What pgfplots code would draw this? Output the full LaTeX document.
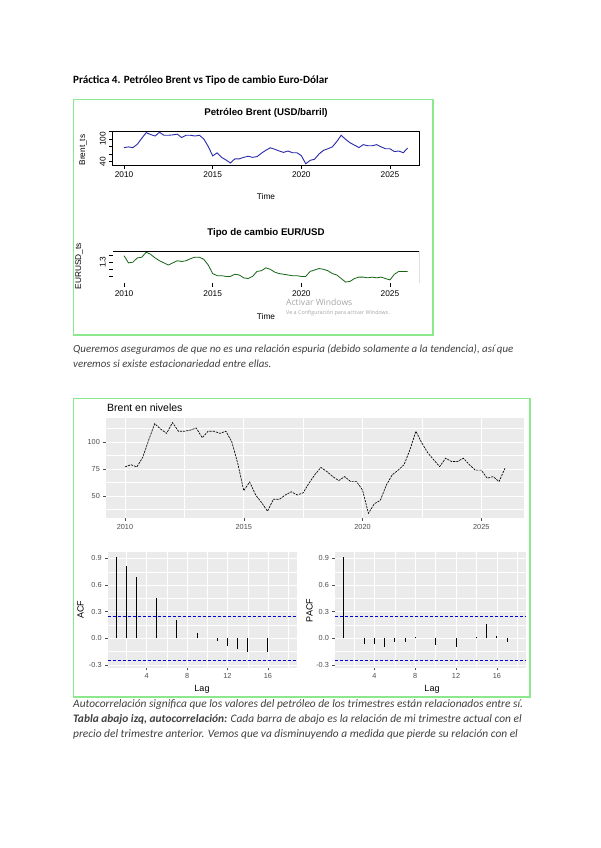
\documentclass[border=0pt]{standalone}
\usepackage{pgfplots}
\pgfplotsset{compat=1.18}
\usepackage{pgfplotstable}
\usepackage{fontspec}
\setmainfont{Carlito}
\newfontfamily\arial{Liberation Sans}
\newfontfamily\winfont{Open Sans}

\definecolor{frameg}{RGB}{140,232,140}
\definecolor{ggbg}{RGB}{235,235,235}
\definecolor{gg30}{RGB}{77,77,77}
\definecolor{rblue}{RGB}{40,40,170}
\definecolor{rgreen}{RGB}{20,100,20}
\definecolor{bodytxt}{RGB}{64,64,64}

% quarterly series, 2010Q1 - 2026Q1
\pgfplotstableread{
t       brent  eur
2010.00 77     1.39
2010.25 79     1.29
2010.50 77     1.30
2010.75 86     1.36
2011.00 102    1.37
2011.25 117    1.44
2011.50 112    1.41
2011.75 108    1.36
2012.00 118    1.32
2012.25 110    1.29
2012.50 110    1.26
2012.75 111    1.29
2013.00 113    1.32
2013.25 104    1.31
2013.50 110    1.32
2013.75 110    1.35
2014.00 108    1.37
2014.25 110    1.37
2014.50 100    1.34
2014.75 80     1.26
2015.00 55     1.14
2015.25 63     1.11
2015.50 51     1.11
2015.75 44     1.10
2016.00 36     1.10
2016.25 47     1.13
2016.50 47     1.12
2016.75 51     1.08
2017.00 54     1.07
2017.25 51     1.10
2017.50 53     1.17
2017.75 62     1.18
2018.00 70     1.22
2018.25 76.5   1.20
2018.50 72.7   1.16
2018.75 68     1.14
2019.00 64.3   1.13
2019.25 68     1.12
2019.50 63.4   1.11
2019.75 63.4   1.11
2020.00 55.6   1.10
2020.25 34     1.10
2020.50 43     1.17
2020.75 46     1.19
2021.00 60     1.21
2021.25 69.6   1.20
2021.50 74     1.18
2021.75 79     1.14
2022.00 93     1.12
2022.25 110    1.07
2022.50 99     1.02
2022.75 90     1.03
2023.00 83.5   1.07
2023.25 77.3   1.09
2023.50 85     1.09
2023.75 82     1.08
2024.00 82     1.09
2024.25 85     1.08
2024.50 79     1.09
2024.75 74     1.07
2025.00 74     1.05
2025.25 66.5   1.13
2025.50 68     1.17
2025.75 63.4   1.17
2026.00 75.8   1.17
}\quarters

\pgfplotsset{
  /pgf/number format/1000 sep={},
  rbase/.style={
    scale only axis, width=306.3pt,
    xmin=2009.36, xmax=2026.64,
    xtick={2010,2015,2020,2025},
    tick align=outside, tick pos=left,
    major tick length=3.5pt,
    tick style={black, line width=0.5pt},
    axis line style={line width=0.6pt},
    ticklabel style={font=\arial\fontsize{8.3}{9}\selectfont},
    yticklabel style={rotate=90, anchor=south},
    /pgf/number format/assume math mode=true,
  },
  gg/.style={
    scale only axis,
    axis background/.style={fill=ggbg},
    axis line style={draw=none},
    grid=both,
    major grid style={white, line width=0.75pt},
    minor grid style={white, line width=0.35pt},
    tick align=outside, tick pos=left,
    major tick length=2.6pt, minor tick length=0pt,
    tick style={gg30, line width=0.5pt},
    ticklabel style={font=\arial\fontsize{7.3}{8}\selectfont, text=gg30},
    /pgf/number format/assume math mode=true,
  },
}

\begin{document}
\begin{tikzpicture}[x=1pt, y=1pt]
\fill[white] (0,0) rectangle (600,-848);
\path[use as bounding box] (0,0) rectangle (600,-848);

% heading
\node[anchor=base west, inner sep=0, font=\bfseries\fontsize{11.1}{13}\selectfont] at (73,-84)
  {Práctica 4. Petróleo Brent vs Tipo de cambio Euro-Dólar};

% frame 1
\draw[frameg, line width=1.8pt] (73.5,-99.5) rectangle (433,-335);

\node[font=\arial\bfseries\fontsize{9.7}{11}\selectfont] at (266,-113) {Petróleo Brent (USD/barril)};
\begin{axis}[rbase, at={(112.7pt,-165pt)}, anchor=south west, height=34pt,
    ymin=30.6, ymax=121.4,
    ytick={40,60,80,100,120}, yticklabels={40,,,100,}]
  \addplot[rblue, line width=0.9pt] table[x=t, y=brent] {\quarters};
\end{axis}
\node[font=\arial\fontsize{8.3}{9}\selectfont] at (266,-197) {Time};
\node[rotate=90, font=\arial\fontsize{8.3}{9}\selectfont] at (83,-150) {Brent\_ts};

\node[font=\arial\bfseries\fontsize{9.7}{11}\selectfont] at (266,-233) {Tipo de cambio EUR/USD};
\begin{axis}[rbase, at={(112.7pt,-283.3pt)}, anchor=south west, height=32.3pt,
    ymin=1.003, ymax=1.457, axis line style={draw=none},
    ytick={1.0,1.1,1.2,1.3,1.4}, yticklabels={1.0,,,1.3,}]
  \addplot[rgreen, line width=0.8pt] table[x=t, y=eur] {\quarters};
  \draw[black, line width=0.6pt] (rel axis cs:0,1) -- (rel axis cs:1,1) -- (rel axis cs:1,0);
\end{axis}
\node[font=\arial\fontsize{8.3}{9}\selectfont] at (266,-317) {Time};
\node[rotate=90, font=\arial\fontsize{8.3}{9}\selectfont] at (79,-266) {EURUSD\_ts};

% watermark
\node[anchor=west, inner sep=0, text=black!35, font=\winfont\fontsize{8.6}{10}\selectfont] at (286,-302) {Activar Windows};
\node[anchor=west, inner sep=0, text=black!35, font=\winfont\fontsize{5.4}{6}\selectfont] at (286,-313.5) {Ve a Configuración para activar Windows.};

% paragraph
\begin{scope}[every node/.style={anchor=base west, inner sep=0, text=bodytxt, font=\itshape\fontsize{10.9}{12}\selectfont}]
\node at (73,-352) {Queremos aseguramos de que no es una relación espuria (debido solamente a la tendencia), así que};
\node at (73,-367) {veremos si existe estacionariedad entre ellas.};
\end{scope}

% frame 2
\draw[frameg, line width=1.8pt] (73.5,-398.5) rectangle (530,-697);

\node[anchor=west, inner sep=0, font=\arial\fontsize{10.5}{12}\selectfont] at (107,-408) {Brent en niveles};
\begin{axis}[gg, at={(106pt,-518pt)}, anchor=south west, width=418pt, height=100.3pt,
    xmin=2009.2, xmax=2026.8, ymin=29.7, ymax=122.5,
    xtick={2010,2015,2020,2025}, minor xtick={2012.5,2017.5,2022.5},
    ytick={50,75,100}, minor ytick={37.5,62.5,87.5,112.5}]
  \addplot[black, line width=0.65pt, dash pattern=on 2.2pt off 1pt] table[x=t, y=brent] {\quarters};
\end{axis}

% ACF
\begin{axis}[gg, at={(107.7pt,-667.7pt)}, anchor=south west, width=189pt, height=115.4pt,
    xmin=0.15, xmax=18.85, ymin=-0.331, ymax=0.969,
    xtick={4,8,12,16}, minor xtick={2,6,10,14,18},
    ytick={-0.3,0,0.3,0.6,0.9}, yticklabels={-0.3,0.0,0.3,0.6,0.9},
    minor ytick={-0.15,0.15,0.45,0.75}]
  \addplot[blue!85!black, densely dashed, line width=0.6pt] coordinates {(0.15,0.245) (18.85,0.245)};
  \addplot[blue!85!black, densely dashed, line width=0.6pt] coordinates {(0.15,-0.245) (18.85,-0.245)};
  \addplot[ycomb, black, line width=0.9pt] coordinates {
    (1,0.92) (2,0.81) (3,0.69) (5,0.45) (7,0.21) (9,0.056)
    (11,-0.035) (12,-0.086) (13,-0.124) (14,-0.157) (16,-0.157)};
\end{axis}
\node[rotate=90, font=\arial\fontsize{9}{10}\selectfont] at (80.5,-609.5) {ACF};
\node[font=\arial\fontsize{9}{10}\selectfont] at (202,-689) {Lag};

% PACF
\begin{axis}[gg, at={(335pt,-667.7pt)}, anchor=south west, width=191pt, height=115.4pt,
    xmin=0.15, xmax=18.85, ymin=-0.331, ymax=0.969,
    xtick={4,8,12,16}, minor xtick={2,6,10,14,18},
    ytick={-0.3,0,0.3,0.6,0.9}, yticklabels={-0.3,0.0,0.3,0.6,0.9},
    minor ytick={-0.15,0.15,0.45,0.75}]
  \addplot[blue!85!black, densely dashed, line width=0.6pt] coordinates {(0.15,0.245) (18.85,0.245)};
  \addplot[blue!85!black, densely dashed, line width=0.6pt] coordinates {(0.15,-0.245) (18.85,-0.245)};
  \addplot[ycomb, black, line width=0.9pt] coordinates {
    (1,0.92) (3,-0.067) (4,-0.067) (5,-0.10) (6,-0.037) (7,-0.045) (8,0.01)
    (10,-0.075) (12,-0.10) (14,0.015) (15,0.16) (16,0.03) (17,-0.037)};
\end{axis}
\node[rotate=90, font=\arial\fontsize{9}{10}\selectfont] at (309.5,-610.5) {PACF};
\node[font=\arial\fontsize{9}{10}\selectfont] at (432,-689) {Lag};

% closing text
\begin{scope}[every node/.style={anchor=base west, inner sep=0, text=bodytxt, font=\itshape\fontsize{11.4}{13}\selectfont}]
\node at (73,-707) {Autocorrelación significa que los valores del petróleo de los trimestres están relacionados entre sí.};
\node at (73,-722) {\textbf{Tabla abajo izq, autocorrelación:} Cada barra de abajo es la relación de mi trimestre actual con el};
\node at (73,-737) {precio del trimestre anterior. Vemos que va disminuyendo a medida que pierde su relación con el};
\end{scope}
\end{tikzpicture}
\end{document}
